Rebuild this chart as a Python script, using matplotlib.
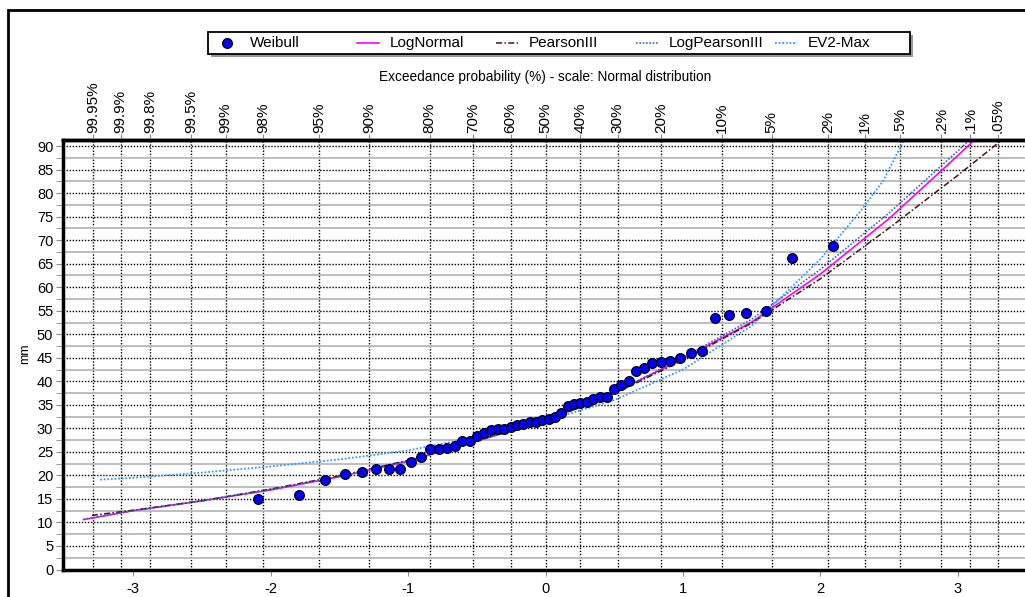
import matplotlib
matplotlib.use('Agg')
import matplotlib.pyplot as plt
from matplotlib.patches import Rectangle
from matplotlib.lines import Line2D
from statistics import NormalDist

plt.rcParams['font.family'] = ['Liberation Sans', 'DejaVu Sans']

# observed values (mm), sorted, plotted at Weibull positions i/(n+1)
weibull_mm = [15.0, 15.8, 19.0, 20.4, 20.7, 21.3, 21.3, 21.3, 22.8, 24.0,
              25.6, 25.6, 25.9, 26.2, 27.3, 27.4, 28.4, 29.1, 29.6, 29.8,
              29.9, 30.3, 30.7, 31.0, 31.3, 31.3, 31.8, 32.0, 32.5, 33.3,
              34.8, 35.1, 35.4, 35.7, 36.2, 36.6, 36.7, 38.4, 39.3, 40.1,
              42.3, 42.9, 43.8, 44.2, 44.3, 45.0, 46.1, 46.4, 53.5, 54.2,
              54.6, 54.9, 66.3, 68.7]

# fitted curves (reduced variate z -> mm)
lognormal_z = [-3.36, -3.0, -2.5, -2.0, -1.5, -1.0, -0.5, 0.0, 0.5, 1.0, 1.5, 2.0, 2.5, 3.0, 3.2]
lognormal_mm = [10.6, 12.5, 14.6, 16.9, 19.7, 23.0, 27.3, 31.6, 37.6, 44.8, 52.6, 62.8, 74.6, 88.0, 93.5]

pearson_z = [-3.30, -3.0, -2.5, -2.0, -1.5, -1.0, -0.5, 0.0, 0.5, 1.0, 1.5, 2.0, 2.5, 3.0, 3.32]
pearson_mm = [11.5, 12.6, 14.6, 17.1, 19.9, 23.2, 27.4, 31.6, 37.4, 44.5, 52.4, 61.8, 72.6, 83.8, 91.3]

logpearson_z = [-3.36, -3.0, -2.5, -2.0, -1.5, -1.0, -0.5, 0.0, 0.5, 1.0, 1.5, 2.0, 2.5, 3.0, 3.2]
logpearson_mm = [10.7, 12.5, 14.6, 17.0, 19.8, 23.1, 27.4, 31.7, 37.6, 45.0, 53.2, 63.8, 75.8, 89.0, 94.5]

ev2_z = [-3.24, -3.0, -2.5, -2.0, -1.5, -1.0, -0.5, 0.0, 0.5, 1.0, 1.5, 2.0, 2.3, 2.46, 2.62]
ev2_mm = [19.1, 19.5, 20.6, 21.9, 23.4, 25.3, 28.2, 31.6, 36.0, 42.5, 51.8, 66.0, 76.5, 82.8, 92.0]

# exceedance probabilities on the top axis
exceed_pct = [99.95, 99.9, 99.8, 99.5, 99, 98, 95, 90, 80, 70, 60, 50,
              40, 30, 20, 10, 5, 2, 1, 0.5, 0.2, 0.1, 0.05]
exceed_labels = ['99.95%', '99.9%', '99.8%', '99.5%', '99%', '98%', '95%', '90%',
                 '80%', '70%', '60%', '50%', '40%', '30%', '20%', '10%', '5%',
                 '2%', '1%', '.5%', '.2%', '.1%', '.05%']

nd = NormalDist()
n = len(weibull_mm)
weibull_z = [nd.inv_cdf(i / (n + 1)) for i in range(1, n + 1)]
top_z = [nd.inv_cdf(1 - p / 100) for p in exceed_pct]

W, H = 1025, 597
fig = plt.figure(figsize=(W / 100, H / 100), dpi=100)
ax = fig.add_axes([63 / W, (H - 569.5) / H, (1028 - 63) / W, (569.5 - 140) / H])

ax.set_xlim(-3.51, 3.51)
ax.set_ylim(0, 91.3)
ax.set_yticks(range(0, 95, 5))
ax.set_yticks([v + 2.5 for v in range(0, 90, 5)], minor=True)
ax.set_xticks([-3, -2, -1, 0, 1, 2, 3])
ax.set_xticklabels(['-3', '-2', '-1', '0', '1', '2', '3'])

ax.grid(which='minor', axis='y', color='#b9b9b9', lw=1.3, ls='-', zorder=0)
ax.grid(which='major', axis='y', color='black', lw=1, ls=(0, (1, 1.2)), zorder=0)
for z in top_z:
    ax.axvline(z, color='black', lw=1, ls=(0, (1, 1.2)), zorder=0)

styles = {
    'Weibull': dict(ls='none', marker='o', ms=7, mfc='#0000ff', mec='black', mew=0.9),
    'LogNormal': dict(color='#ff00ff', lw=1.2),
    'PearsonIII': dict(color='#4a1010', lw=1.1, ls=(0, (4, 1.5, 1, 1.5))),
    'LogPearsonIII': dict(color='#2a6fbf', lw=1.2, ls=(0, (1, 1))),
    'EV2-Max': dict(color='#3399ff', lw=1.3, ls=(0, (1, 1))),
}

ax.plot(lognormal_z, lognormal_mm, zorder=3, **styles['LogNormal'])
ax.plot(pearson_z, pearson_mm, zorder=3, **styles['PearsonIII'])
ax.plot(logpearson_z, logpearson_mm, zorder=3, **styles['LogPearsonIII'])
ax.plot(ev2_z, ev2_mm, zorder=3, **styles['EV2-Max'])
ax.plot(weibull_z, weibull_mm, zorder=5, clip_on=False, **styles['Weibull'])

for s in ['left', 'bottom', 'top']:
    ax.spines[s].set_linewidth(2.5)
ax.spines['right'].set_visible(False)
ax.tick_params(axis='both', which='both', color='#8c8c8c', labelsize=10.5, pad=2)
ax.tick_params(axis='y', which='both', length=5)
ax.tick_params(axis='x', length=4, pad=5)

ax2 = ax.twiny()
ax2.set_xlim(ax.get_xlim())
ax2.set_xticks(top_z)
ax2.set_xticklabels(exceed_labels, rotation=90)
ax2.tick_params(axis='x', color='#8c8c8c', length=4, labelsize=11, pad=1)
for s in ['left', 'bottom', 'right']:
    ax2.spines[s].set_visible(False)
ax2.spines['top'].set_linewidth(2.5)

# legend box drawn by hand: evenly spaced entries like the original
def fx(px):
    return px / W

def fy(py):
    return 1 - py / H

fig.add_artist(Rectangle((fx(211), fy(57)), fx(702), 22 / H, transform=fig.transFigure,
                         fc='#9a9a9a', ec='none', zorder=1))
fig.add_artist(Rectangle((fx(208), fy(54)), fx(702), 22 / H, transform=fig.transFigure,
                         fc='white', ec='black', lw=1.3, zorder=2))
legend_names = ['Weibull', 'LogNormal', 'PearsonIII', 'LogPearsonIII', 'EV2-Max']
for k, name in enumerate(legend_names):
    tx = 250 + 139.5 * k
    if name == 'Weibull':
        fig.add_artist(Line2D([fx(tx - 23)], [fy(43)], transform=fig.transFigure,
                              zorder=3, **styles[name]))
    else:
        fig.add_artist(Line2D([fx(tx - 33), fx(tx - 11)], [fy(43), fy(43)],
                              transform=fig.transFigure, zorder=3, **styles[name]))
    fig.text(fx(tx), fy(43), name, ha='left', va='center', fontsize=11, zorder=3)

fig.text(545 / W, 1 - 77 / H, 'Exceedance probability (%) - scale: Normal distribution',
         ha='center', va='center', fontsize=9.8)
fig.text(25 / W, 1 - 354 / H, 'mm', rotation=90, ha='center', va='center', fontsize=9)

fig.add_artist(Rectangle((8 / W, -0.1), 1.2, (H - 10) / H + 0.1, transform=fig.transFigure,
                         fill=False, lw=2, ec='black', clip_on=False))

fig.savefig('out.png', dpi=100)
